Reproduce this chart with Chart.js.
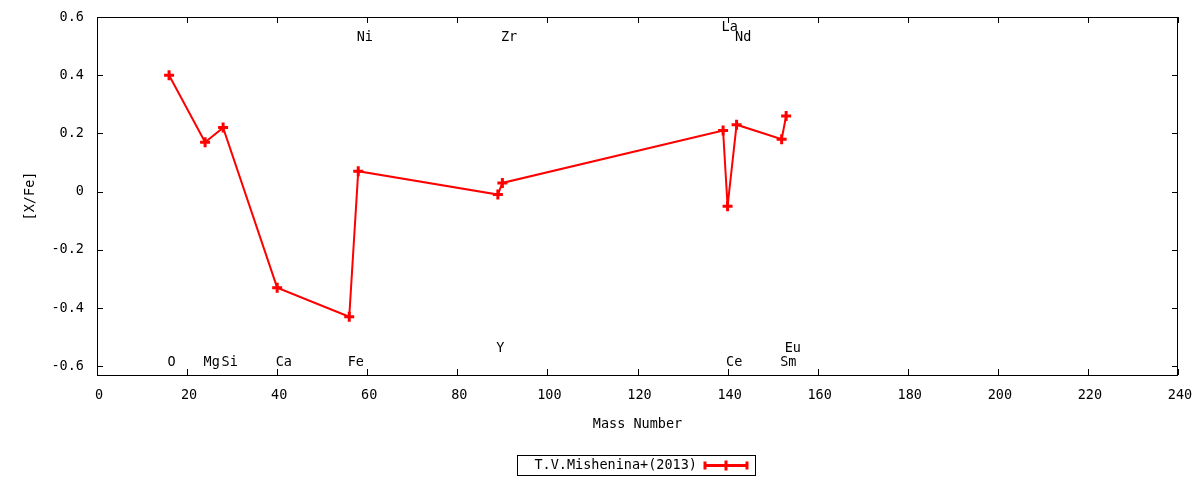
<!DOCTYPE html>
<html>
<head>
<meta charset="utf-8">
<script src="https://cdn.jsdelivr.net/npm/chart.js@4.4.1/dist/chart.umd.min.js"></script>
<style>
  html, body { margin: 0; padding: 0; background: #ffffff; }
  #wrap { width: 1200px; height: 480px; }
</style>
</head>
<body>
<div id="wrap"><canvas id="c" width="1200" height="480"></canvas></div>
<script>
// ---- data ----
const elements   = ['O', 'Mg', 'Si', 'Ca', 'Fe', 'Ni', 'Y', 'Zr', 'La', 'Ce', 'Nd', 'Sm', 'Eu'];
const massNumber = [16, 24, 28, 40, 56, 58, 89, 90, 139, 140, 142, 152, 153];
const xFe        = [0.40, 0.17, 0.22, -0.33, -0.43, 0.07, -0.01, 0.03, 0.21, -0.05, 0.23, 0.18, 0.26];
const seriesName = 'T.V.Mishenina+(2013)';
const xTicks = [0, 20, 40, 60, 80, 100, 120, 140, 160, 180, 200, 220, 240];
const yTicks = [-0.6, -0.4, -0.2, 0, 0.2, 0.4, 0.6];
const yTickLabels = ['-0.6', '-0.4', '-0.2', '0', '0.2', '0.4', '0.6'];
const xTitle = 'Mass Number';
const yTitle = '[X/Fe]';

// element label rows (annotation placement)
const labelRow = ['b', 'b', 'b', 'b', 'b', 't', 'b2', 't', 't2', 'b', 't', 'b', 'b2'];
const rowValue = { t: 0.53, t2: 0.563, b: -0.587, b2: -0.54 };

const FONT = '"DejaVu Sans Mono", "Liberation Mono", monospace';
const FS = 13.5;
const RED = '#ff0000';

const points = massNumber.map((m, i) => ({ x: m, y: xFe[i] }));

const gnuplotDecor = {
  id: 'gnuplotDecor',
  afterDatasetsDraw(chart) {
    const { ctx, chartArea: a, scales: { x, y } } = chart;
    ctx.save();
    // frame
    ctx.strokeStyle = '#000';
    ctx.lineWidth = 1;
    ctx.strokeRect(Math.round(a.left) + 0.5, Math.round(a.top) + 0.5,
                   Math.round(a.right - a.left) - 1, Math.round(a.bottom - a.top));
    // inward ticks on all sides
    const tl = 6;
    ctx.beginPath();
    xTicks.forEach(v => {
      const px = Math.round(x.getPixelForValue(v)) + 0.5;
      ctx.moveTo(px, a.bottom); ctx.lineTo(px, a.bottom - tl);
      ctx.moveTo(px, a.top); ctx.lineTo(px, a.top + tl);
    });
    yTicks.forEach(v => {
      const py = Math.round(y.getPixelForValue(v)) + 0.5;
      ctx.moveTo(a.left, py); ctx.lineTo(a.left + tl, py);
      ctx.moveTo(a.right, py); ctx.lineTo(a.right - tl, py);
    });
    ctx.stroke();

    // element labels
    ctx.fillStyle = '#000';
    ctx.font = FS + 'px ' + FONT;
    ctx.textAlign = 'left';
    ctx.textBaseline = 'middle';
    elements.forEach((el, i) => {
      const px = x.getPixelForValue(massNumber[i]) - 1.5;
      const py = y.getPixelForValue(rowValue[labelRow[i]]);
      ctx.fillText(el, px, py);
    });

    // legend box
    const lx = 517.5, ly = 455.5, lw = 238, lh = 20;
    ctx.strokeStyle = '#000';
    ctx.lineWidth = 1;
    ctx.strokeRect(lx, ly, lw, lh);
    ctx.textAlign = 'right';
    ctx.fillText(seriesName, 697, ly + lh / 2);
    const cy = ly + lh / 2;
    ctx.strokeStyle = RED;
    ctx.lineWidth = 3;
    ctx.beginPath();
    ctx.moveTo(705, cy); ctx.lineTo(747, cy);
    ctx.moveTo(705, cy - 4); ctx.lineTo(705, cy + 4);
    ctx.moveTo(747, cy - 4); ctx.lineTo(747, cy + 4);
    ctx.moveTo(726, cy - 5); ctx.lineTo(726, cy + 5);
    ctx.moveTo(721, cy); ctx.lineTo(731, cy);
    ctx.stroke();
    ctx.restore();
  }
};

new Chart(document.getElementById('c'), {
  type: 'scatter',
  data: {
    datasets: [{
      label: seriesName,
      data: points,
      showLine: true,
      borderColor: RED,
      backgroundColor: RED,
      borderWidth: 2,
      pointStyle: 'cross',
      pointRadius: 5,
      pointBorderWidth: 3,
      pointBorderColor: RED,
      pointHoverRadius: 5,
      tension: 0
    }]
  },
  options: {
    responsive: false,
    animation: false,
    devicePixelRatio: 1,
    layout: { padding: { left: 10, right: 22, top: 17, bottom: 45 } },
    plugins: { legend: { display: false }, tooltip: { enabled: false } },
    scales: {
      x: {
        type: 'linear',
        min: 0, max: 240,
        afterFit(s) { s.height = 60; s.paddingLeft = 0; s.paddingRight = 0; },
        afterBuildTicks(s) { s.ticks = xTicks.map(v => ({ value: v })); },
        grid: { display: false, drawTicks: false },
        border: { display: false },
        ticks: {
          padding: 12,
          labelOffset: 2,
          color: '#000',
          font: { family: FONT, size: FS },
          maxRotation: 0,
          autoSkip: false,
          callback: v => String(v)
        },
        title: {
          display: true, text: xTitle, color: '#000',
          font: { family: FONT, size: FS },
          padding: { top: 0, bottom: 2 }
        }
      },
      y: {
        type: 'linear',
        min: -0.63, max: 0.6,
        afterFit(s) { s.width = 87; s.paddingTop = 0; s.paddingBottom = 0; },
        afterBuildTicks(s) { s.ticks = yTicks.map(v => ({ value: v })); },
        grid: { display: false, drawTicks: false },
        border: { display: false },
        ticks: {
          padding: 13,
          color: '#000',
          font: { family: FONT, size: FS },
          autoSkip: false,
          callback: (v) => {
            const i = yTicks.findIndex(t => Math.abs(t - v) < 1e-9);
            return i >= 0 ? yTickLabels[i] : '';
          }
        },
        title: {
          display: true, text: yTitle, color: '#000',
          font: { family: FONT, size: FS },
          padding: { top: 12, bottom: 0 }
        }
      }
    }
  },
  plugins: [gnuplotDecor]
});
</script>
</body>
</html>
